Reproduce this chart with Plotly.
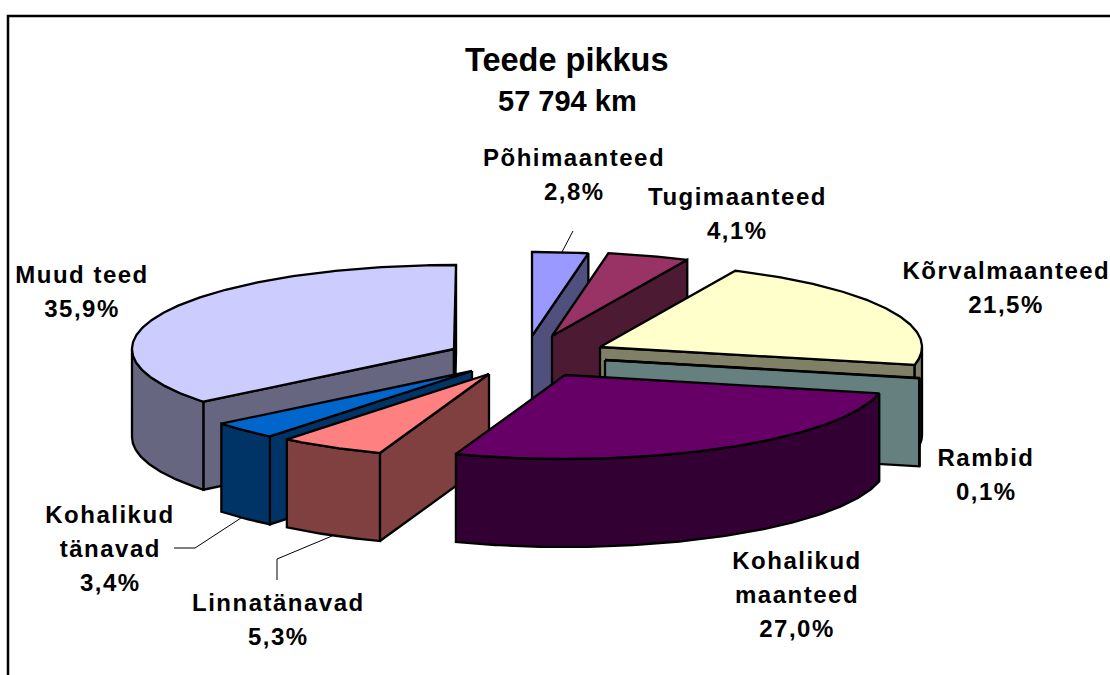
import math
import plotly.graph_objects as go

# ---- data ----
categories = ["Põhimaanteed", "Tugimaanteed", "Kõrvalmaanteed", "Rambid",
              "Kohalikud maanteed", "Linnatänavad", "Kohalikud tänavad", "Muud teed"]
shares = [2.8, 4.1, 21.5, 0.1, 27.0, 5.3, 3.4, 35.9]
title_lines = ["Teede pikkus", "57 794 km"]

# ---- styles and layout ----
top_colors = ["#9999FF", "#993366", "#FFFFCC", "#CCFFFF", "#660066", "#FF8080", "#0066CC", "#CCCCFF"]
side_colors = ["#50507F", "#4D1A33", "#808066", "#668080", "#330033", "#804040", "#003366", "#666680"]
apex_x = [532, 552, 600, 605, 565, 489, 472, 454]
apex_y = [336, 336, 347, 360, 375, 374, 371, 349]
draw_order = [7, 0, 1, 2, 3, 6, 5, 4]
label_lines = [["Põhimaanteed"], ["Tugimaanteed"], ["Kõrvalmaanteed"], ["Rambid"],
               ["Kohalikud", "maanteed"], ["Linnatänavad"], ["Kohalikud", "tänavad"], ["Muud teed"]]
label_x = [574, 737, 1006, 986, 797, 278, 110, 82]
label_top = [157, 196, 270, 457, 560, 602, 514, 274]
leaders = {0: ([562, 573], [252, 231]),
           5: ([277, 277, 332], [580, 559, 536]),
           6: ([174, 195, 241], [548, 548, 518])}
RX, RY, DEPTH = 322, 84, 88
FONT = "Liberation Sans, Arial, sans-serif"
LINE_H = 34


def rim(cx, cy, deg):
    a = math.radians(deg)
    return cx + RX * math.sin(a), cy - RY * math.cos(a)


def arc(cx, cy, a0, a1):
    n = max(2, int(abs(a1 - a0) * 1.5) + 2)
    return [rim(cx, cy, a0 + (a1 - a0) * i / (n - 1)) for i in range(n)]


def add_poly(fig, pts, color, name):
    fig.add_trace(go.Scatter(
        x=[p[0] for p in pts] + [pts[0][0]],
        y=[p[1] for p in pts] + [pts[0][1]],
        mode="lines", fill="toself", fillcolor=color,
        line=dict(color="black", width=2.3, shape="linear"),
        hoverinfo="text", text=name, showlegend=False))


fig = go.Figure()
starts, acc = [], 0.0
for s in shares:
    starts.append(acc * 3.6)
    acc += s

for i in draw_order:
    cx, cy = apex_x[i], apex_y[i]
    a0 = starts[i]
    a1 = a0 + shares[i] * 3.6
    name = f"{categories[i]}: {shares[i]:.1f}%".replace(".", ",")
    # radial faces that look towards the viewer
    for ang, visible in ((a0, math.sin(math.radians(a0)) < 0), (a1, math.sin(math.radians(a1)) > 0)):
        if visible:
            ex, ey = rim(cx, cy, ang)
            add_poly(fig, [(cx, cy), (ex, ey), (ex, ey + DEPTH), (cx, cy + DEPTH)], side_colors[i], name)
    # outer wall (front half of the ellipse only)
    w0, w1 = max(a0, 90), min(a1, 270)
    if w1 > w0:
        upper = arc(cx, cy, w0, w1)
        lower = [(x, y + DEPTH) for x, y in reversed(upper)]
        add_poly(fig, upper + lower, side_colors[i], name)
    # top face
    add_poly(fig, [(cx, cy)] + arc(cx, cy, a0, a1), top_colors[i], name)

# leader lines
for xs, ys in leaders.values():
    fig.add_trace(go.Scatter(x=xs, y=ys, mode="lines", line=dict(color="black", width=1),
                             hoverinfo="skip", showlegend=False))

# chart frame (runs off the right and bottom of the picture)
fig.add_trace(go.Scatter(x=[1115, 8, 8], y=[16, 16, 680], mode="lines",
                         line=dict(color="black", width=2.5), hoverinfo="skip", showlegend=False))

ann = [
    dict(x=567, y=60, text=title_lines[0], showarrow=False, xanchor="center", yanchor="middle",
         font=dict(family=FONT, size=32.5, color="black", weight="bold")),
    dict(x=567, y=101, text=title_lines[1], showarrow=False, xanchor="center", yanchor="middle",
         font=dict(family=FONT, size=29, color="black", weight="bold")),
]
for i, lines in enumerate(label_lines):
    rows = lines + [f"{shares[i]:.1f}%".replace(".", ",")]
    for j, row in enumerate(rows):
        ann.append(dict(x=label_x[i], y=label_top[i] + j * LINE_H, text=row, showarrow=False,
                        xanchor="center", yanchor="middle",
                        font=dict(family=FONT, size=24, color="black", weight="bold")))

fig.update_layout(
    width=1110, height=675, margin=dict(l=0, r=0, t=0, b=0),
    paper_bgcolor="white", plot_bgcolor="white", showlegend=False,
    xaxis=dict(range=[0, 1110], visible=False, fixedrange=True),
    yaxis=dict(range=[675, 0], visible=False, fixedrange=True),
    annotations=ann,
)

post = """
document.body.style.margin='0';
document.documentElement.style.overflow='hidden';
var st=document.createElement('style');
st.textContent='.annotation-text{letter-spacing:1.5px}'
 +'.annotation[data-index="0"] .annotation-text,.annotation[data-index="1"] .annotation-text{letter-spacing:0}';
document.head.appendChild(st);
"""
fig.write_html("out.html", post_script=post, config={"displayModeBar": False})
